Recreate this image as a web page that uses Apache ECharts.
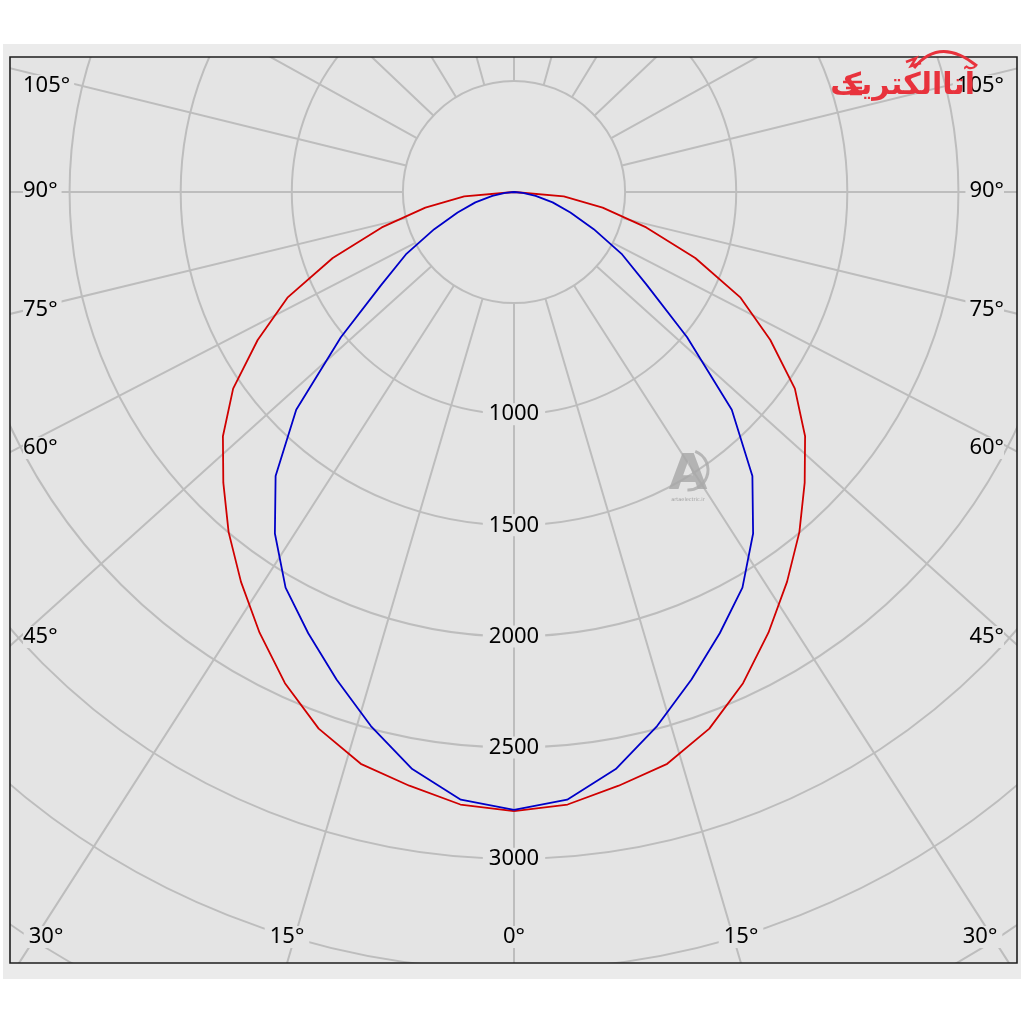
<!DOCTYPE html>
<html>
<head>
<meta charset="utf-8">
<script src="https://cdn.jsdelivr.net/npm/echarts@6/dist/echarts.min.js"></script>
<style>
html,body{margin:0;padding:0;background:#ffffff;}
#chart{width:1024px;height:1024px;}
</style>
</head>
<body>
<div id="chart"></div>
<script>
// ---- data (candela values, symmetric about 0°) ----
const angles = [0, 5, 10, 15, 20, 25, 30, 35, 40, 45, 50, 55, 60, 65, 70, 75, 80, 85, 90];
const redValues  = [2786, 2767, 2713, 2664, 2570, 2439, 2290, 2142, 1998, 1850, 1710, 1543, 1332, 1125, 868, 616, 405, 225, 0];
const blueValues = [2781, 2745, 2637, 2488, 2335, 2191, 2056, 1876, 1669, 1386, 1017, 729, 562, 396, 270, 180, 99, 40, 0];
const radiusTicks = [1000, 1500, 2000, 2500, 3000];
// drawn spoke directions of the grid (left half, degrees from the downward axis)
const spokeAngles = [0, 16.4, 32.7, 48, 62.7, 76.4, 90, 103.8, 119, 133.5, 148.6, 164.5, 180];
const sideLabels = ['105°', '90°', '75°', '60°', '45°'];
const bottomLabels = ['30°', '15°', '0°', '15°', '30°'];

// ---- styling constants ----
const PLOT_BG = '#e4e4e4';
const BAND = '#ebebeb';
const GRID = '#bdbdbd';
const FONT = "22px 'Noto Sans', 'DejaVu Sans', sans-serif";
const CX = 514, CY = 192;
const RMAX = 4200, ROUT = 933.3;
const RIN = ROUT * 500 / RMAX;

function closedCurve(vals) {
  const pts = [];
  for (let i = 0; i < angles.length; i++) pts.push([vals[i], angles[i]]);
  for (let i = angles.length - 1; i >= 0; i--) pts.push([vals[i], 360 - angles[i]]);
  return pts;
}

const allSpokes = spokeAngles.concat(spokeAngles.filter(a => a > 0 && a < 180).map(a => 360 - a));

const graphics = [];
// masks outside the plot frame
[[0,0,1024,57],[0,963,1024,61],[0,57,10,906],[1017,57,7,906]].forEach(r => {
  graphics.push({type:'rect', z:100, silent:true, shape:{x:r[0],y:r[1],width:r[2],height:r[3]}, style:{fill:BAND}});
});
[[0,0,1024,44],[0,979,1024,45],[0,0,3,1024],[1021,0,3,1024]].forEach(r => {
  graphics.push({type:'rect', z:101, silent:true, shape:{x:r[0],y:r[1],width:r[2],height:r[3]}, style:{fill:'#ffffff'}});
});
graphics.push({type:'rect', z:102, silent:true, shape:{x:10,y:57,width:1007,height:906}, style:{fill:'none', stroke:'#1e1e1e', lineWidth:1.6}});

function txt(t, x, y, align, pad) {
  return {type:'text', z:103, x:x, y:y, silent:true,
    style:{text:t, font:FONT, fill:'#000', textAlign:align, align:align,
      textVerticalAlign:'middle', verticalAlign:'middle', backgroundColor:PLOT_BG, padding:pad}};
}
// angle labels on the frame edges
const sideY = [86, 191, 310, 448, 637];
sideLabels.forEach((t, i) => {
  graphics.push(txt(t, 23, sideY[i], 'left', [0,4,0,0]));
  graphics.push(txt(t, 1004, sideY[i], 'right', [0,0,0,4]));
});
const bottomX = [46, 287, 514, 741, 980];
bottomLabels.forEach((t, i) => {
  graphics.push(txt(t, bottomX[i], 937, 'center', [0,5]));
});

// logo (top right)
graphics.push({type:'text', z:110, x:975, y:86, silent:true, style:{text:'آتاالکتریک', font:"bold 30px 'DejaVu Sans', sans-serif", fill:'#e8323c', textAlign:'right', align:'right', textVerticalAlign:'middle', verticalAlign:'middle'}});
graphics.push({type:'bezierCurve', z:110, silent:true, shape:{x1:914, y1:68, cpx1:940, cpy1:36, x2:977, y2:66}, style:{stroke:'#e8323c', lineWidth:3, fill:'none'}});
graphics.push({type:'polyline', z:110, silent:true, shape:{points:[[906,62],[916,58],[911,66],[921,63]]}, style:{stroke:'#e8323c', lineWidth:2.5, fill:'none'}});
[[843,82,862],[846,88,862],[850,94,862]].forEach(l => {
  graphics.push({type:'line', z:110, silent:true, shape:{x1:l[0], y1:l[1], x2:l[2], y2:l[1]}, style:{stroke:'#e8323c', lineWidth:2.5}});
});

// watermark (centre right)
graphics.push({type:'text', z:90, x:688, y:476, silent:true, style:{text:'A', font:"bold 50px 'DejaVu Sans', sans-serif", fill:'#a6a6a6', opacity:0.8, textAlign:'center', align:'center', textVerticalAlign:'middle', verticalAlign:'middle'}});
graphics.push({type:'arc', z:90, silent:true, shape:{cx:688, cy:470, r:20, startAngle:-1.2, endAngle:1.6}, style:{stroke:'#aaaaaa', lineWidth:3, fill:'none', opacity:0.8}});
graphics.push({type:'text', z:90, x:688, y:500, silent:true, style:{text:'artaelectric.ir', font:"5px 'DejaVu Sans', sans-serif", fill:'#a0a0a0', textAlign:'center', align:'center', textVerticalAlign:'middle', verticalAlign:'middle'}});

const option = {
  animation: false,
  backgroundColor: PLOT_BG,
  textStyle: {fontFamily: "'Noto Sans', 'DejaVu Sans', sans-serif"},
  polar: [
    {center: [CX, CY], radius: [RIN, ROUT]},
    {center: [CX, CY], radius: [0, ROUT]}
  ],
  angleAxis: [
    {
      polarIndex: 0, type: 'value', min: 0, max: 360, interval: 15,
      startAngle: 270, clockwise: true,
      axisLine: {show: false},
      axisTick: {show: false, customValues: allSpokes},
      axisLabel: {show: false, customValues: allSpokes},
      splitLine: {show: true, lineStyle: {color: GRID, width: 2}}
    },
    {polarIndex: 1, type: 'value', min: 0, max: 360, startAngle: 270, clockwise: true, show: false}
  ],
  radiusAxis: [
    {
      polarIndex: 0, type: 'value', min: 500, max: RMAX, interval: 500,
      axisLine: {show: false}, axisTick: {show: false}, axisLabel: {show: false},
      splitLine: {show: true, lineStyle: {color: GRID, width: 2}}
    },
    {polarIndex: 1, type: 'value', min: 0, max: RMAX, show: false}
  ],
  series: [
    {
      type: 'scatter', coordinateSystem: 'polar', polarIndex: 0, z: 4, silent: true,
      symbol: 'rect', symbolSize: 1, itemStyle: {color: PLOT_BG, opacity: 1},
      data: radiusTicks.map(v => [v, 0]),
      label: {
        show: true, position: 'inside', formatter: p => String(p.value[0]),
        fontSize: 22, fontFamily: "'Noto Sans', 'DejaVu Sans', sans-serif", color: '#000', opacity: 1,
        backgroundColor: PLOT_BG, padding: [0, 6]
      },
      emphasis: {disabled: true}
    },
    {
      name: 'C0-C180', type: 'line', coordinateSystem: 'polar', polarIndex: 1, z: 6,
      data: closedCurve(redValues), showSymbol: false, symbol: 'none', silent: true,
      lineStyle: {color: '#d00000', width: 1.8}
    },
    {
      name: 'C90-C270', type: 'line', coordinateSystem: 'polar', polarIndex: 1, z: 7,
      data: closedCurve(blueValues), showSymbol: false, symbol: 'none', silent: true,
      lineStyle: {color: '#0000c8', width: 1.8}
    }
  ],
  graphic: {elements: graphics}
};

const chart = echarts.init(document.getElementById('chart'), null, {renderer: 'canvas'});
chart.setOption(option);
</script>
</body>
</html>
